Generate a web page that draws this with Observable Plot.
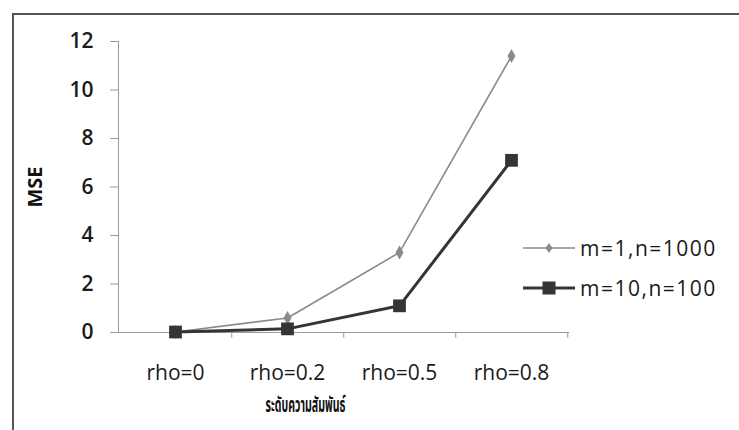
<!DOCTYPE html>
<html>
<head>
<meta charset="utf-8">
<script src="https://cdn.jsdelivr.net/npm/d3@7"></script>
<script src="https://cdn.jsdelivr.net/npm/@observablehq/plot@0.6"></script>
<style>
  html, body { margin: 0; padding: 0; background: #fff; overflow: hidden; }
  #wrap { position: relative; width: 739px; height: 430px; }
  #box { position: absolute; left: 12px; top: 13px; width: 800px; height: 500px;
         border-left: 2px solid #555; border-top: 2px solid #555; pointer-events: none; }
  .legend { position: absolute; left: 521px; font-family: "Open Sans", sans-serif;
            font-size: 21px; color: #1a1a1a; letter-spacing: 1.5px; }
  .legend div { display: flex; align-items: center; height: 40px; }
  .legend svg { margin-right: 5px; }
</style>
</head>
<body>
<div id="wrap">
  <div id="chart"></div>
  <div id="box"></div>
  <div class="legend" id="legend" style="top:228px"></div>
</div>
<script>
// Correlation levels on the x axis
const categories = ["rho=0", "rho=0.2", "rho=0.5", "rho=0.8"];
// MSE for each design
const mseM1 = [0.02, 0.6, 3.3, 11.4];   // m=1, n=1000
const mseM10 = [0.02, 0.15, 1.1, 7.1];  // m=10, n=100
const seriesNames = ["m=1,n=1000", "m=10,n=100"];
const yTicks = [0, 2, 4, 6, 8, 10, 12];
const yLabel = "MSE";
const xLabel = "ระดับความสัมพันธ์";

const W = 739, H = 430;
const mL = 118, mR = 171, mT = 41, mB = 98;
const halfBand = (W - mL - mR) / categories.length / 2;

const rows1 = categories.map((c, i) => ({cat: c, v: mseM1[i]}));
const rows2 = categories.map((c, i) => ({cat: c, v: mseM10[i]}));

const grey = "#8a8a8a", dark = "#353535", axisGrey = "#9a9a9a";

const chart = Plot.plot({
  width: W, height: H,
  marginLeft: mL, marginRight: mR, marginTop: mT, marginBottom: mB,
  style: {fontFamily: "'Open Sans', sans-serif", fontSize: "21px", color: "#1a1a1a", background: "transparent"},
  x: {type: "band", domain: categories, padding: 0, label: null},
  y: {domain: [0, 12], label: null},
  marks: [
    Plot.frame({anchor: "left", stroke: axisGrey}),
    Plot.frame({anchor: "bottom", stroke: axisGrey}),
    Plot.axisY({ticks: yTicks, tickSize: 8, tickPadding: 17, stroke: axisGrey, fill: "#1a1a1a",
      fontWeight: 600, label: null}),
    // category labels centred in each band
    Plot.axisX({tickSize: 0, tickPadding: 33, fill: "#1a1a1a", label: null, style: {letterSpacing: "1px"}}),
    // separator ticks at band edges
    Plot.axisX({tickSize: 6, tickFormat: () => "", dx: halfBand, stroke: axisGrey, label: null}),
    Plot.line(rows1, {x: "cat", y: "v", stroke: grey, strokeWidth: 1.6}),
    Plot.dot(rows1, {x: "cat", y: "v", symbol: "diamond", r: 4.2, fill: grey, stroke: "none"}),
    Plot.line(rows2, {x: "cat", y: "v", stroke: dark, strokeWidth: 3}),
    Plot.dot(rows2, {x: "cat", y: "v", symbol: "square", r: 7.2, fill: dark, stroke: "none"}),
    Plot.text([yLabel], {frameAnchor: "left", textAnchor: "middle", dx: -83, rotate: -90,
      fontWeight: "bold", fontSize: 20, fill: "#111"}),
    Plot.text([xLabel], {frameAnchor: "bottom", dx: -38, dy: 79, fontWeight: "bold", fontSize: 21, fill: "#111",
      fontFamily: "'Noto Sans Thai', 'Noto Sans', sans-serif", className: "xtitle"})
  ]
});
document.getElementById("chart").appendChild(chart);

// the Thai axis title is set in a narrow face: squeeze it to 80px
chart.querySelectorAll(".xtitle text").forEach(t => {
  t.setAttribute("textLength", 80);
  t.setAttribute("lengthAdjust", "spacingAndGlyphs");
});

// Legend entries: line swatch with its marker, then the series name
const legend = document.getElementById("legend");
const swatches = [
  `<svg width="54" height="20"><line x1="2" y1="10" x2="54" y2="10" stroke="${grey}" stroke-width="1.6"/>` +
  `<path d="M28,5 L31.5,10 L28,15 L24.5,10 Z" fill="${grey}"/></svg>`,
  `<svg width="54" height="20"><line x1="2" y1="10" x2="54" y2="10" stroke="${dark}" stroke-width="3"/>` +
  `<rect x="21.5" y="3.5" width="13" height="13" fill="${dark}"/></svg>`
];
seriesNames.forEach((name, i) => {
  const row = document.createElement("div");
  row.innerHTML = swatches[i] + `<span>${name}</span>`;
  legend.appendChild(row);
});
</script>
</body>
</html>
